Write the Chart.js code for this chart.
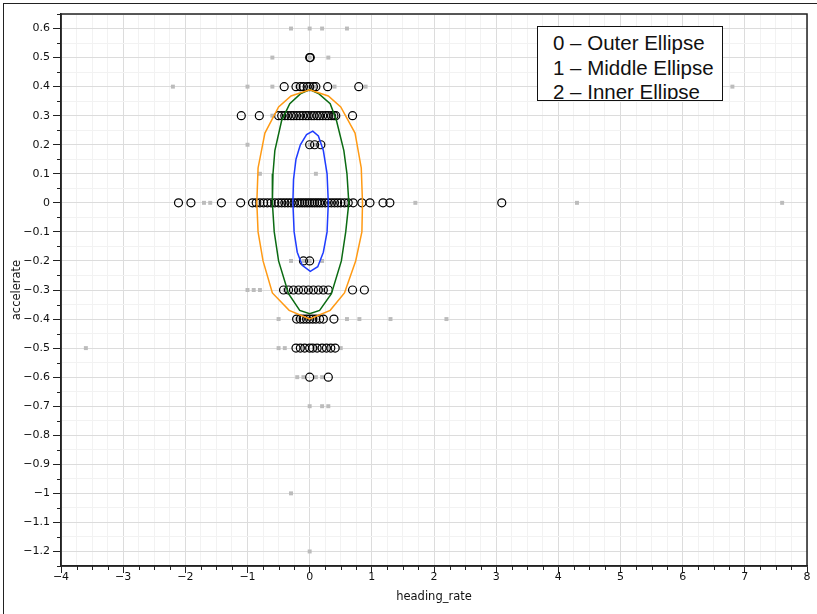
<!DOCTYPE html>
<html lang="en">
<head>
  <meta charset="UTF-8">
  <title>accelerate vs heading_rate</title>
  <script src="https://cdn.jsdelivr.net/npm/chart.js"></script>
  <style>
    html, body { margin: 0; padding: 0; background: #fff; }
    body { width: 817px; height: 614px; position: relative; overflow: hidden; font-family: 'DejaVu Sans', sans-serif; }
    .frame { position: absolute; left: 3px; top: 3px; width: 840px; height: 640px; border-left: 1.5px solid #222; border-top: 1.5px solid #222; }
    #wrap { position: absolute; left: 0; top: 0; width: 817px; height: 614px; }
    .legend { position: absolute; left: 537px; top: 26px; width: 186px; height: 75px; box-sizing: border-box; border: 1.5px solid #111; background: #fff; }
    .legend-clip { position: absolute; left: 0; top: 0; right: 0; height: 68px; overflow: hidden;
                   padding: 4px 0 0 15px; font-family: 'Liberation Sans', Arial, sans-serif; font-size: 20.5px; line-height: 24.5px; color: #111; white-space: nowrap; }
  </style>
</head>
<body>
  <div class="frame"></div>
  <div id="wrap"><canvas id="chart"></canvas></div>
  <div class="legend">
    <div class="legend-clip">
      <div>0 – Outer Ellipse</div>
      <div>1 – Middle Ellipse</div>
      <div>2 – Inner Ellipse</div>
    </div>
  </div>

  <script>
    // open circles, grouped by accelerate level
    const circleLevels = [0.5, 0.4, 0.3, 0.2, 0, -0.2, -0.3, -0.4, -0.5, -0.6];
    const circleXs = [
      [0, 0.01],
      [-0.41, -0.22, -0.15, -0.1, -0.04, 0, 0.06, 0.1, 0.29, 0.79],
      [-1.1, -0.81, -0.5, -0.45, -0.4, -0.35, -0.3, -0.26, -0.21, -0.16, -0.11, -0.06, -0.02, 0.03, 0.07, 0.12, 0.16, 0.21, 0.26, 0.3, 0.35, 0.39, 0.42, 0.69],
      [0, 0.08, 0.18],
      [-2.11, -1.91, -1.42, -1.11, -0.92, -0.86, -0.8, -0.74, -0.68, -0.62, -0.56, -0.5, -0.45, -0.4, -0.35, -0.3, -0.25, -0.2, -0.16, -0.12, -0.08, -0.04, 0, 0.04, 0.08, 0.12, 0.16, 0.2, 0.25, 0.3, 0.35, 0.4, 0.45, 0.5, 0.56, 0.62, 0.7, 0.84, 0.97, 1.18, 1.29, 3.09],
      [-0.1, 0],
      [-0.42, -0.34, -0.26, -0.18, -0.1, -0.02, 0.06, 0.14, 0.22, 0.3, 0.69, 0.88],
      [-0.21, -0.15, -0.1, -0.05, 0, 0.05, 0.1, 0.16, 0.22, 0.39],
      [-0.22, -0.15, -0.08, 0, 0.05, 0.12, 0.2, 0.27, 0.34, 0.41],
      [0, 0.3]
    ];

    // small grey squares (all samples)
    const grayLevels = [0.6, 0.5, 0.4, 0.3, 0.2, 0.1, 0, -0.2, -0.3, -0.4, -0.5, -0.6, -0.7, -1.0, -1.2];
    const grayXs = [
      [-0.3, 0, 0.2, 0.6],
      [-0.6, 0, 0.3],
      [-2.2, -1.0, -0.6, -0.2, 0, 0.1, 0.4, 0.9, 6.8],
      [-0.6, -0.4, -0.3, -0.2, -0.1, 0, 0.1, 0.2, 0.3, 0.4],
      [-1.0, 0, 0.1],
      [-0.8, 0.1],
      [-1.7, -1.6, -0.8, -0.6, -0.4, -0.2, -0.1, 0, 0.1, 0.2, 0.4, 0.6, 1.7, 4.3, 7.6],
      [-0.3, -0.1, 0, 0.2],
      [-1.0, -0.9, -0.8, -0.4, -0.2, 0, 0.2],
      [-0.5, -0.2, 0, 0.1, 0.6, 0.8, 1.3, 2.2],
      [-3.6, -0.5, -0.4, -0.1, 0.1, 0.3, 0.5],
      [-0.2, -0.1, 0.1, 0.2],
      [0, 0.2, 0.3],
      [-0.3],
      [0]
    ];

    // ellipse outlines
    const outerX = [0.85, 0.83, 0.73, 0.5, 0.3, 0, -0.3, -0.5, -0.72, -0.83, -0.85, -0.83, -0.75, -0.6, -0.33, 0, 0.33, 0.56, 0.74, 0.84, 0.85];
    const outerY = [0, 0.12, 0.24, 0.33, 0.368, 0.389, 0.368, 0.33, 0.24, 0.12, 0, -0.1, -0.2, -0.31, -0.37, -0.4, -0.37, -0.31, -0.2, -0.1, 0];
    const middleX = [0.63, 0.6, 0.55, 0.43, 0.33, 0.15, 0, -0.15, -0.32, -0.45, -0.56, -0.59, -0.6, -0.57, -0.5, -0.34, -0.16, 0, 0.16, 0.35, 0.51, 0.58, 0.63];
    const middleY = [0, 0.1, 0.18, 0.284, 0.341, 0.375, 0.39, 0.375, 0.341, 0.284, 0.18, 0.1, 0, -0.1, -0.2, -0.313, -0.37, -0.382, -0.37, -0.313, -0.2, -0.1, 0];
    const innerX = [0.3, 0.28, 0.22, 0.14, 0.05, -0.05, -0.15, -0.22, -0.26, -0.27, -0.25, -0.2, -0.12, 0.01, 0.13, 0.22, 0.28, 0.3];
    const innerY = [0, 0.1, 0.18, 0.23, 0.247, 0.235, 0.2, 0.15, 0.08, 0, -0.1, -0.17, -0.215, -0.236, -0.22, -0.17, -0.1, 0];

    const rows = (levels, xs) => levels.flatMap((y, i) => xs[i].map(x => ({ x, y })));
    const pairs = (xs, ys) => xs.map((x, i) => ({ x, y: ys[i] }));
    const minus = s => s.replace('-', '\u2212');
    const isMajorX = v => Math.abs(v - Math.round(v)) < 1e-6;
    const isMajorY = v => Math.abs(v * 10 - Math.round(v * 10)) < 1e-6;

    const ellipse = (data, color) => ({
      data, showLine: true, borderColor: color, borderWidth: 1.5, pointRadius: 0, fill: false, tension: 0, order: 1
    });

    // short minor ticks + dark frame round the plot area
    const frameAndMinorTicks = {
      id: 'frameAndMinorTicks',
      afterDraw(chart) {
        const { ctx, chartArea: a, scales: { x, y } } = chart;
        ctx.save();
        ctx.strokeStyle = '#222';
        ctx.lineWidth = 1;
        ctx.beginPath();
        x.ticks.forEach(t => {
          if (isMajorX(t.value)) return;
          const px = Math.round(x.getPixelForValue(t.value)) + 0.5;
          ctx.moveTo(px, a.bottom); ctx.lineTo(px, a.bottom + 4);
        });
        y.ticks.forEach(t => {
          if (isMajorY(t.value)) return;
          const py = Math.round(y.getPixelForValue(t.value)) + 0.5;
          ctx.moveTo(a.left - 4, py); ctx.lineTo(a.left, py);
        });
        ctx.stroke();
        ctx.lineWidth = 1.5;
        ctx.strokeRect(a.left, a.top, a.right - a.left, a.bottom - a.top);
        ctx.restore();
      }
    };

    Chart.defaults.font.family = "'DejaVu Sans', sans-serif";
    Chart.defaults.font.size = 11;
    Chart.defaults.color = '#111';

    new Chart(document.getElementById('chart'), {
      type: 'scatter',
      data: {
        datasets: [
          ellipse(pairs(outerX, outerY), '#ff9a14'),
          ellipse(pairs(middleX, middleY), '#0b6b12'),
          ellipse(pairs(innerX, innerY), '#1f3cff'),
          { data: rows(circleLevels, circleXs), pointStyle: 'circle', pointRadius: 4, borderColor: '#000', borderWidth: 1.2, backgroundColor: 'rgba(0,0,0,0)', order: 2 },
          { data: rows(grayLevels, grayXs), pointStyle: 'rect', pointRadius: 2.8, borderWidth: 0, backgroundColor: '#bcbcbc', order: 3 }
        ]
      },
      options: {
        responsive: true,
        maintainAspectRatio: false,
        animation: false,
        events: [],
        layout: { padding: { left: 0, top: 14, right: 10, bottom: 0 } },
        plugins: { legend: { display: false }, tooltip: { enabled: false } },
        scales: {
          x: {
            type: 'linear', min: -4, max: 8,
            afterFit: s => { s.height = 48; },
            border: { color: '#222', width: 1.5 },
            grid: {
              color: c => isMajorX(c.tick.value) ? '#dcdcdc' : '#f2f2f2',
              tickColor: c => isMajorX(c.tick.value) ? '#222' : 'rgba(0,0,0,0)',
              tickLength: 7, lineWidth: 1
            },
            ticks: { stepSize: 0.25, autoSkip: false, maxRotation: 0, padding: -2,
                     callback: v => isMajorX(v) ? minus(String(Math.round(v))) : '' },
            title: { display: true, text: 'heading_rate', font: { size: 11.5 }, padding: { bottom: 10 } }
          },
          y: {
            type: 'linear', min: -1.25, max: 0.65,
            afterFit: s => { s.width = 61; },
            border: { color: '#222', width: 1.5 },
            grid: {
              color: c => isMajorY(c.tick.value) ? '#dcdcdc' : '#f2f2f2',
              tickColor: c => isMajorY(c.tick.value) ? '#222' : 'rgba(0,0,0,0)',
              tickLength: 8, lineWidth: 1
            },
            ticks: { stepSize: 0.05, autoSkip: false, padding: 3,
                     callback: v => isMajorY(v) ? minus(String(Math.round(v * 10) / 10)) : '' },
            title: { display: true, text: 'accelerate', font: { size: 11.5 }, padding: { top: 10 } }
          }
        }
      },
      plugins: [frameAndMinorTicks]
    });
  </script>
</body>
</html>
